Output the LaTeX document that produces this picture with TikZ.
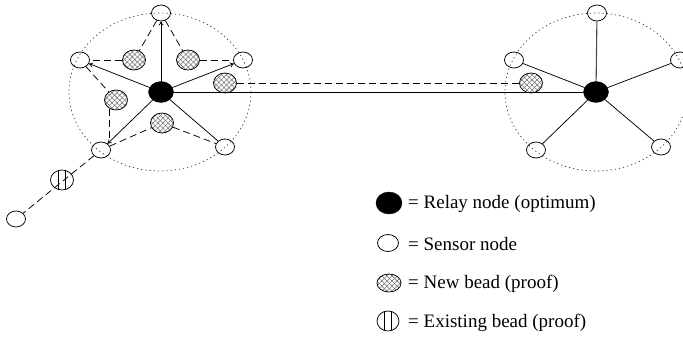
\documentclass[tikz,border=0pt]{standalone}
\usepackage{fontspec}
\setmainfont{Liberation Serif}
\usetikzlibrary{shapes.geometric,patterns.meta,arrows.meta}
\begin{document}
\begin{tikzpicture}[x=1pt,y=-1pt,
  sensor/.style={ellipse,draw,minimum width=19pt,minimum height=16pt,inner sep=0pt,line width=0.75pt},
  relay/.style={ellipse,draw,fill=black,minimum width=25pt,minimum height=21pt,inner sep=0pt},
  bead/.style={ellipse,draw,minimum width=23pt,minimum height=20pt,inner sep=0pt,line width=0.75pt,
    preaction={fill=white},
    preaction={pattern={Lines[angle=45,distance=3.6pt,line width=0.55pt]},pattern color=black!55},
    preaction={pattern={Lines[angle=-45,distance=3.6pt,line width=0.55pt]},pattern color=black!55}},
  oldbead/.style={ellipse,draw,minimum width=23pt,minimum height=20pt,inner sep=0pt,line width=0.75pt,
    path picture={\draw[line width=1pt] ([xshift=-3.5pt]path picture bounding box.north) -- ([xshift=-3.5pt]path picture bounding box.south);
                  \draw[line width=1pt] ([xshift=3pt]path picture bounding box.north) -- ([xshift=3pt]path picture bounding box.south);}},
  wire/.style={line width=0.75pt},
  arr/.style={wire,-{To[length=4pt,width=5pt]}},
  dsh/.style={line width=0.75pt,dash pattern=on 7pt off 4pt},
  zone/.style={line width=0.7pt,dash pattern=on 1.2pt off 3pt,black!80},
  lab/.style={anchor=base west,inner sep=0pt,font=\fontsize{19}{22}\selectfont}
]
\useasboundingbox (0,0) rectangle (683,337);
% range circles
\draw[zone] (160,92) ellipse [x radius=91pt, y radius=79pt];
\draw[zone] (596,92) ellipse [x radius=91pt, y radius=79pt];
% left cluster
\node[relay] (L) at (161,92) {};
\node[sensor] (sT) at (161,13) {};
\node[sensor] (sUL) at (80,60) {};
\node[sensor] (sUR) at (243,60) {};
\node[sensor] (sLL) at (101,150) {};
\node[sensor] (sLR) at (225,147) {};
\node[sensor] (sF) at (16,219) {};
\node[bead] (bUL) at (134,60) {};
\node[bead] (bUR) at (188,60) {};
\node[bead] (bL) at (116,100) {};
\node[bead] (bLo) at (162,123) {};
\node[bead] (bR) at (225,83) {};
\node[oldbead] (eb) at (62,180) {};
% right cluster
\node[relay] (R) at (596,92) {};
\node[sensor] (rT) at (597,13) {};
\node[sensor] (rUL) at (514,60) {};
\node[sensor] (rUR) at (680,60) {};
\node[sensor] (rLL) at (536,150) {};
\node[sensor] (rLR) at (661,147) {};
\node[bead] (rB) at (531,83) {};
% solid links
\draw[arr] (L) -- (sT);
\draw[arr] (L) -- (sUL);
\draw[arr] (L) -- (sUR);
\draw[arr] (L) -- (sLL);
\draw[wire] (L) -- (sLR);
\draw[wire] (L) -- (R);
\draw[line width=1.1pt,black!70] (R) -- (rT);
\draw[wire] (R) -- (rUL);
\draw[wire] (R) -- (rUR);
\draw[wire] (R) -- (rLL);
\draw[wire] (R) -- (rLR);
% dashed links
\draw[dsh] (sT) -- (bUL);
\draw[dsh] (sT) -- (bUR);
\draw[dsh] (bUL) -- (sUL);
\draw[dsh] (bUR) -- (sUR);
\draw[dsh] (sUL) -- (bL);
\draw[dsh] (bL.235) -- (bL.235 |- sLL.north);
\draw[dsh] (sLL) -- (bLo);
\draw[dsh] (bLo) -- (sLR);
\draw[dsh] (sLL) -- (sF);
\draw[dsh] (bR) -- (rB);
% legend
\node[relay,minimum width=26pt,minimum height=22pt] (kR) at (389,203) {};
\node[sensor,minimum width=21pt,minimum height=17pt] (kS) at (388,243) {};
\node[bead,minimum width=24pt,minimum height=18pt] (kB) at (389,283) {};
\node[oldbead,minimum width=22pt,minimum height=20pt] (kE) at (388,321) {};
\node[lab] (tR) at (408,208) {= Relay node (optimum)};
\node[lab] (tS) at (408,250) {= Sensor node};
\node[lab] (tB) at (408,288) {= New bead (proof)};
\node[lab] (tE) at (408,327) {= Existing bead (proof)};
\end{tikzpicture}
\end{document}
